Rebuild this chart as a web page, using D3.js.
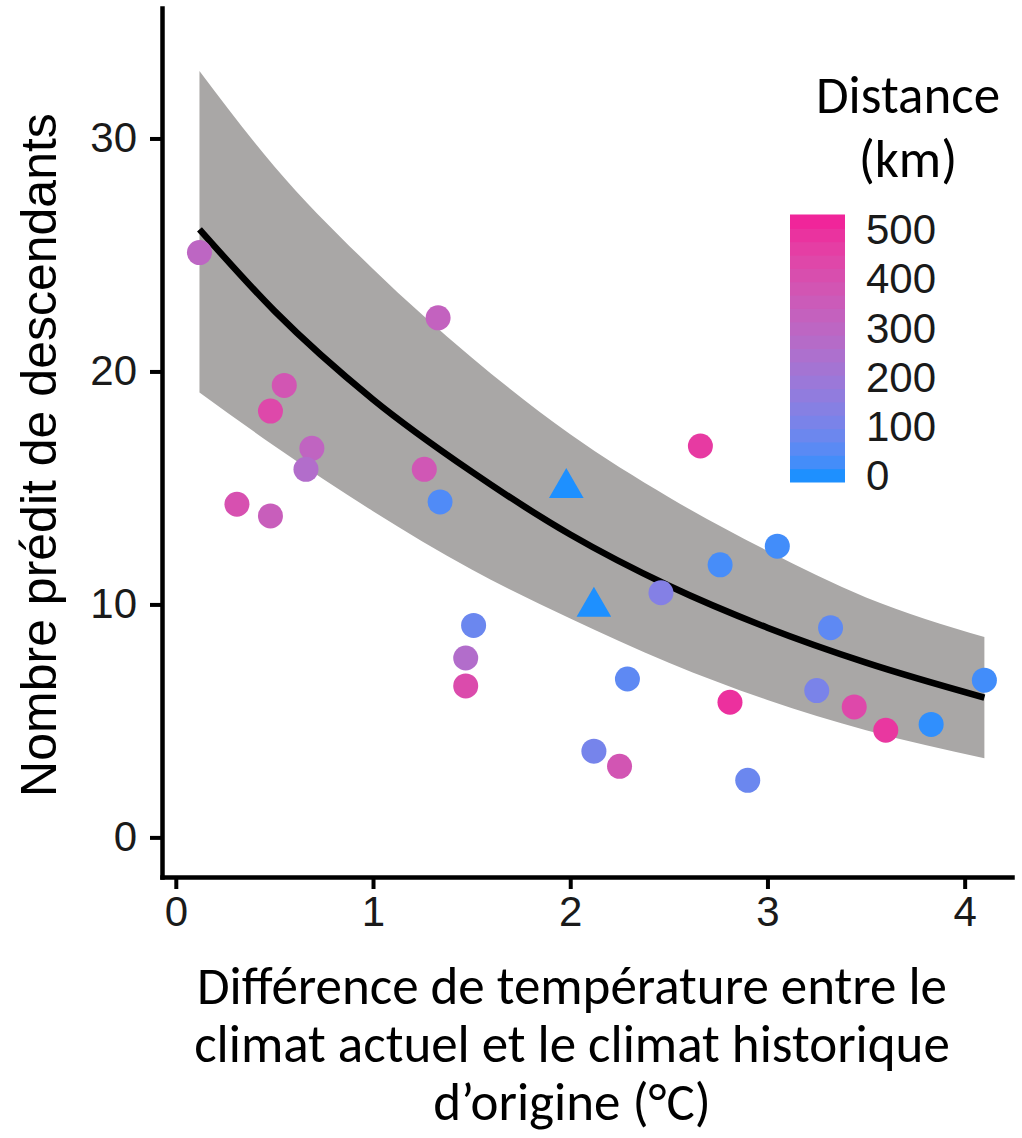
<!DOCTYPE html>
<html>
<head>
<meta charset="utf-8">
<script src="https://cdn.jsdelivr.net/npm/d3@7"></script>
<style>
  body { margin: 0; background: #fff; }
</style>
</head>
<body>
<script>
// observations: temperature difference (°C), predicted offspring, distance (km), marker
const tempDiff  = [0.12, 0.31, 0.48, 0.48, 0.55, 0.69, 0.66, 1.33, 1.26, 1.34, 1.51, 1.47, 1.47, 1.98, 2.12,
                   2.12, 2.25, 2.29, 2.46, 2.66, 2.76, 2.81, 2.90, 3.05, 3.25, 3.32, 3.44, 3.60, 3.83, 4.10]
const offspring = [25.1, 14.3, 13.8, 18.3, 19.4, 16.7, 15.8, 22.3, 15.8, 14.4, 9.1, 7.7, 6.5, 15.0, 9.9,
                   3.7, 3.05, 6.8, 10.5, 16.8, 11.7, 5.8, 2.45, 12.5, 6.3, 9.0, 5.6, 4.6, 4.85, 6.75]
const distance  = [300, 400, 340, 430, 380, 310, 260, 320, 370, 40, 80, 260, 420, 0, 0,
                   100, 380, 60, 130, 470, 30, 495, 80, 25, 110, 60, 430, 480, 10, 25]
const marker    = ['c', 'c', 'c', 'c', 'c', 'c', 'c', 'c', 'c', 'c', 'c', 'c', 'c', 't', 't',
                   'c', 'c', 'c', 'c', 'c', 'c', 'c', 'c', 'c', 'c', 'c', 'c', 'c', 'c', 'c']

// fitted curve and confidence band
const fitX     = [0.12, 0.5, 1.0, 1.5, 2.0, 2.5, 3.0, 3.5, 4.1]
const fitY     = [26.1, 22.6, 18.8, 15.7, 13.0, 10.8, 9.0, 7.5, 6.0]
const fitUpper = [32.9, 28.8, 24.4, 20.6, 17.3, 14.6, 12.3, 10.3, 8.6]
const fitLower = [19.1, 16.8, 14.0, 11.5, 9.4, 7.5, 5.9, 4.6, 3.4]

const xTicks = [0, 1, 2, 3, 4]
const yTicks = [0, 10, 20, 30]
const legendBreaks = [0, 100, 200, 300, 400, 500]
const distLimits = [0, 515]

const yTitle = 'Nombre prédit de descendants'
const xTitle = ['Différence de température entre le', 'climat actuel et le climat historique', 'd’origine (°C)']
const legendTitle = ['Distance', '(km)']

const width = 1022
const height = 1138
const tickFont = '"Liberation Sans", Arial, Helvetica, sans-serif'
const titleFont = 'Carlito, Calibri, Lato, sans-serif'

const svg = d3.select('body').append('svg')
  .attr('width', width)
  .attr('height', height)

const xScale = d3.scaleLinear().domain([-0.07, 4.24]).range([162, 1012])
const yScale = d3.scaleLinear().domain([-1.7, 35.6]).range([877, 8])

const color = d3.scaleLinear()
  .domain(distLimits)
  .range(['#1E90FF', '#F0259A'])
  .interpolate(d3.interpolateLab)

// confidence band
const band = d3.area()
  .x((d, i) => xScale(fitX[i]))
  .y0((d, i) => yScale(fitLower[i]))
  .y1((d, i) => yScale(fitUpper[i]))
  .curve(d3.curveMonotoneX)

svg.append('path')
  .datum(fitX)
  .attr('d', band)
  .style('fill', '#a9a7a6')

const line = d3.line()
  .x((d, i) => xScale(fitX[i]))
  .y((d, i) => yScale(fitY[i]))
  .curve(d3.curveMonotoneX)

svg.append('path')
  .datum(fitX)
  .attr('d', line)
  .style('fill', 'none')
  .style('stroke', '#000')
  .style('stroke-width', 6.5)

// points
const points = tempDiff.map((t, i) => ({ x: t, y: offspring[i], dist: distance[i], shape: marker[i] }))

svg.selectAll('.dot')
  .data(points.filter(d => d.shape === 'c'))
  .enter().append('circle')
  .attr('class', 'dot')
  .attr('cx', d => xScale(d.x))
  .attr('cy', d => yScale(d.y))
  .attr('r', 12.5)
  .style('fill', d => color(d.dist))

svg.selectAll('.tri')
  .data(points.filter(d => d.shape === 't'))
  .enter().append('path')
  .attr('class', 'tri')
  .attr('d', d3.symbol().type(d3.symbolTriangle).size(520))
  .attr('transform', d => `translate(${xScale(d.x)}, ${yScale(d.y)})`)
  .style('fill', d => color(d.dist))

// axes
const xAxis = svg.append('g')
  .attr('transform', `translate(0, 877)`)
  .call(d3.axisBottom(xScale).tickValues(xTicks).tickFormat(d3.format('d'))
    .tickSizeInner(12).tickSizeOuter(0).tickPadding(7))
const yAxis = svg.append('g')
  .attr('transform', `translate(162, 0)`)
  .call(d3.axisLeft(yScale).tickValues(yTicks).tickFormat(d3.format('d'))
    .tickSizeInner(12).tickSizeOuter(0).tickPadding(13))

;[xAxis, yAxis].forEach(ax => {
  ax.select('.domain').style('stroke', '#000').style('stroke-width', 4.5).style('stroke-linecap', 'square')
  ax.selectAll('.tick line').style('stroke', '#000').style('stroke-width', 4)
  ax.selectAll('.tick text')
    .style('font-family', tickFont)
    .style('font-size', '42px')
    .style('fill', '#1a1a1a')
})

// axis titles
svg.append('text')
  .attr('transform', 'translate(56, 455) rotate(-90)')
  .attr('text-anchor', 'middle')
  .style('font-family', tickFont)
  .style('font-size', '50px')
  .style('fill', '#000')
  .text(yTitle)

svg.selectAll('.xtitle')
  .data(xTitle)
  .enter().append('text')
  .attr('class', 'xtitle')
  .attr('x', 572)
  .attr('y', (d, i) => 1004 + i * 58)
  .attr('text-anchor', 'middle')
  .style('font-family', titleFont)
  .style('font-size', '53px')
  .style('fill', '#000')
  .text(d => d)

// colour legend
svg.selectAll('.ltitle')
  .data(legendTitle)
  .enter().append('text')
  .attr('class', 'ltitle')
  .attr('x', 908)
  .attr('y', (d, i) => 113 + i * 64)
  .attr('text-anchor', 'middle')
  .style('font-family', titleFont)
  .style('font-size', '53px')
  .style('fill', '#000')
  .text(d => d)

const nbin = 20
const barTop = 215
const barBottom = 482
const binH = (barBottom - barTop) / nbin
const legendY = d3.scaleLinear()
  .domain(distLimits)
  .range([barBottom - binH / 2, barTop + binH / 2])
const bins = d3.range(nbin).map(i => distLimits[0] + i * (distLimits[1] - distLimits[0]) / (nbin - 1))

svg.selectAll('.bin')
  .data(bins)
  .enter().append('rect')
  .attr('class', 'bin')
  .attr('x', 790)
  .attr('width', 55)
  .attr('y', d => legendY(d) - binH / 2 - 0.5)
  .attr('height', binH + 1)
  .style('fill', d => color(d))

svg.selectAll('.lab')
  .data(legendBreaks)
  .enter().append('text')
  .attr('class', 'lab')
  .attr('x', 866)
  .attr('y', d => legendY(d))
  .attr('dy', '0.36em')
  .style('font-family', tickFont)
  .style('font-size', '42px')
  .style('fill', '#1a1a1a')
  .text(d => d)
</script>
</body>
</html>
